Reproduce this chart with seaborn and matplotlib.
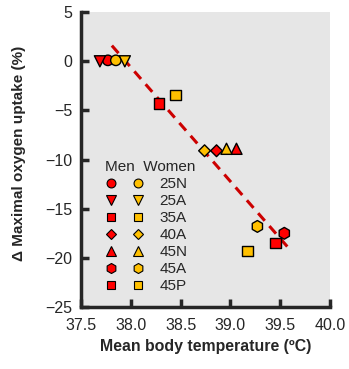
import pandas as pd
import seaborn as sns
import matplotlib.pyplot as plt
from matplotlib.lines import Line2D
from matplotlib.legend_handler import HandlerTuple

# condition codes and their markers
groups = ["25N", "25A", "35A", "40A", "45N", "45A", "45P"]
markers = ["o", "v", "s", "D", "^", "h", "s"]
msizes = [7.5, 8, 7.5, 6, 8, 8.5, 7.5]

# mean body temperature (ºC) and change in VO2max (%) per group
temp_men = [37.77, 37.69, 38.28, 38.86, 39.06, 39.54, 39.45]
vo2_men = [0.1, 0.0, -4.3, -9.1, -8.9, -17.5, -18.5]
temp_women = [37.85, 37.94, 38.45, 38.74, 38.96, 39.27, 39.17]
vo2_women = [0.1, 0.0, -3.4, -9.1, -8.9, -16.8, -19.3]

# regression line end points
fit_x = [37.81, 39.60]
fit_y = [1.6, -19.2]

men_color = "#ff0000"
women_color = "#ffc000"

df = pd.DataFrame({
    "temp": temp_men + temp_women,
    "vo2": vo2_men + vo2_women,
    "sex": ["Men"] * 7 + ["Women"] * 7,
    "group": groups * 2,
})

sns.set_style("ticks")
plt.rcParams["font.family"] = ["Liberation Sans", "DejaVu Sans"]

fig = plt.figure(figsize=(3.49, 3.69), dpi=100)
ax = fig.add_axes([0.232, 0.168, 0.714, 0.799])
ax.set_facecolor("#e6e6e6")

ax.plot(fit_x, fit_y, color="#cc0000", lw=2.2, dashes=(3.3, 2.3), zorder=1)

for g, m, ms in zip(groups, markers, msizes):
    sns.scatterplot(data=df[df["group"] == g], x="temp", y="vo2", hue="sex",
                    palette={"Men": men_color, "Women": women_color},
                    marker=m, s=ms ** 2, edgecolor="black", linewidth=1.0,
                    legend=False, ax=ax, zorder=3)

ax.set_xlim(37.5, 40.0)
ax.set_ylim(-25, 5)
ax.set_xticks([37.5, 38.0, 38.5, 39.0, 39.5, 40.0])
ax.set_xticklabels(["37.5", "38.0", "38.5", "39.0", "39.5", "40.0"])
ax.set_yticks([5, 0, -5, -10, -15, -20, -25])
ax.set_xlabel("Mean body temperature (ºC)", fontsize=11.4, fontweight="bold")
ax.set_ylabel("Δ Maximal oxygen uptake (%)", fontsize=11, fontweight="bold")
ax.xaxis.set_label_coords(0.5, -0.108)
ax.yaxis.set_label_coords(-0.222, 0.52)
ax.tick_params(direction="in", length=6, width=2.5, labelsize=11.5, pad=6)
ax.tick_params(axis="x", pad=8)
for side in ["top", "right"]:
    ax.spines[side].set_visible(False)
for side in ["left", "bottom"]:
    ax.spines[side].set_linewidth(2.5)

handles = []
for m, ms in zip(markers, msizes):
    h_m = Line2D([], [], ls="", marker=m, ms=ms * 0.85, mfc=men_color, mec="black", mew=0.8)
    h_w = Line2D([], [], ls="", marker=m, ms=ms * 0.85, mfc=women_color, mec="black", mew=0.8)
    handles.append((h_m, h_w))

leg = ax.legend(handles, groups, handler_map={tuple: HandlerTuple(ndivide=None, pad=1.0)},
                title="Men  Women", title_fontsize=11, fontsize=11,
                loc="upper left", bbox_to_anchor=(0.04, 0.545), frameon=False,
                handlelength=2.6, handletextpad=1.0, labelspacing=0.2,
                alignment="left")

plt.savefig("out.png", dpi=100)
